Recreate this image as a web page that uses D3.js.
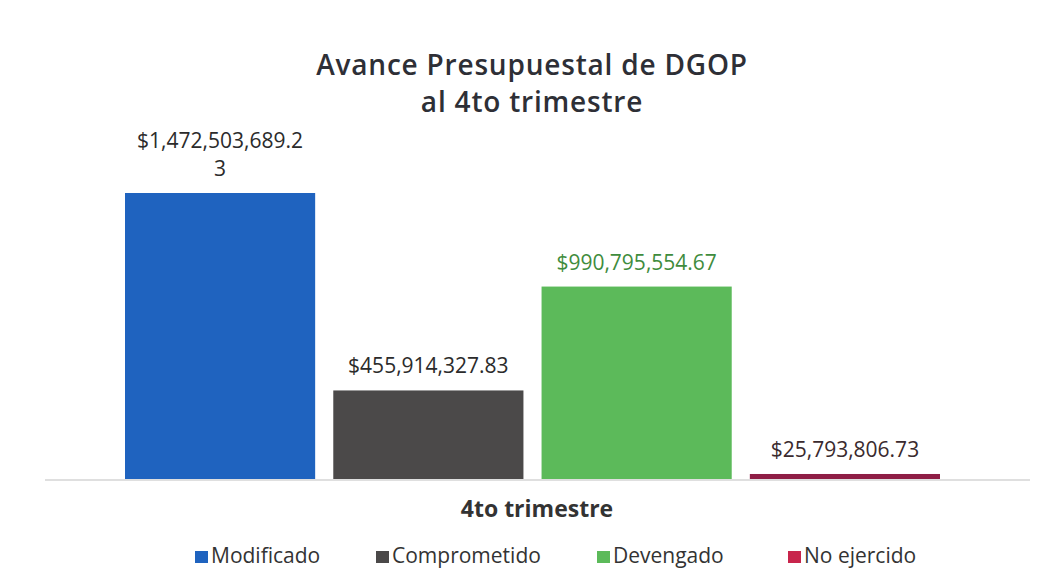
<!DOCTYPE html>
<html>
<head>
<meta charset="utf-8">
<script src="https://cdn.jsdelivr.net/npm/d3@7"></script>
<style>
  body { margin: 0; background: #fff; }
  svg { font-family: "Open Sans", Lato, sans-serif; }
</style>
</head>
<body>
<div id="chart"></div>
<script>
const width = 1039;
const height = 583;

// Data
const categories = ["Modificado", "Comprometido", "Devengado", "No ejercido"];
const values = [1472503689.23, 455914327.83, 990795554.67, 25793806.73];
const labels = [["$1,472,503,689.2", "3"], ["$455,914,327.83"], ["$990,795,554.67"], ["$25,793,806.73"]];
const titleLines = ["Avance Presupuestal de DGOP", "al 4to trimestre"];
const colors = ["#1f63bf", "#4b4949", "#5cba5a", "#8e1d45"];
const legendColors = ["#1f63bf", "#4b4949", "#5cba5a", "#c8254c"];
const labelColors = ["#2b2b2b", "#2b2b2b", "#3f8c3d", "#3a2a2e"];

const baseY = 479;

const svg = d3.select("#chart")
  .append("svg")
  .attr("width", width)
  .attr("height", height);

svg.append("rect")
  .attr("width", width).attr("height", height)
  .attr("fill", "#fff");

// Scales
const x = d3.scaleBand()
  .domain(categories)
  .range([125, 940])
  .paddingInner(0.087)
  .paddingOuter(0);

const y = d3.scaleLinear()
  .domain([0, 1472503689.23])
  .range([baseY, 193]);

// Title (two lines)
svg.selectAll(".title")
  .data(titleLines)
  .enter()
  .append("text")
  .attr("class", "title")
  .attr("x", 532)
  .attr("y", (d, i) => 75 + i * 37)
  .attr("text-anchor", "middle")
  .attr("fill", "#2e2f36")
  .attr("font-size", 28)
  .attr("font-weight", 600)
  .attr("letter-spacing", 0.8)
  .text(d => d);

// Baseline
svg.append("line")
  .attr("x1", 45).attr("x2", 1030)
  .attr("y1", baseY + 1).attr("y2", baseY + 1)
  .attr("stroke", "#d4d4d4")
  .attr("stroke-width", 1.5);

// Bars
svg.selectAll(".bar")
  .data(categories)
  .enter()
  .append("rect")
  .attr("class", "bar")
  .attr("x", d => x(d))
  .attr("y", (d, i) => y(values[i]))
  .attr("width", x.bandwidth())
  .attr("height", (d, i) => baseY - y(values[i]))
  .attr("fill", (d, i) => colors[i]);

// Value labels
categories.forEach(function(c, i) {
  const lines = labels[i];
  const top = y(values[i]);
  const t = svg.append("text")
    .attr("text-anchor", "middle")
    .attr("font-size", 21)
    .attr("fill", labelColors[i]);
  lines.forEach(function(line, j) {
    t.append("tspan")
      .attr("x", x(c) + x.bandwidth() / 2)
      .attr("y", top - 17 - (lines.length - 1 - j) * 28)
      .text(line);
  });
});

// Category label
svg.append("text")
  .attr("x", 537)
  .attr("y", 517)
  .attr("text-anchor", "middle")
  .attr("font-size", 23)
  .attr("font-weight", 700)
  .attr("fill", "#333")
  .text("4to trimestre");

// Legend
const legendX = [195, 376, 597, 788];
const legend = svg.selectAll(".legend")
  .data(categories)
  .enter()
  .append("g")
  .attr("class", "legend")
  .attr("transform", (d, i) => `translate(${legendX[i]},563)`);

legend.append("rect")
  .attr("x", 0).attr("y", -12)
  .attr("width", 13).attr("height", 12)
  .attr("fill", (d, i) => legendColors[i]);

legend.append("text")
  .attr("x", 16)
  .attr("y", 0)
  .attr("font-size", 21)
  .attr("fill", "#333")
  .text(d => d);
</script>
</body>
</html>
